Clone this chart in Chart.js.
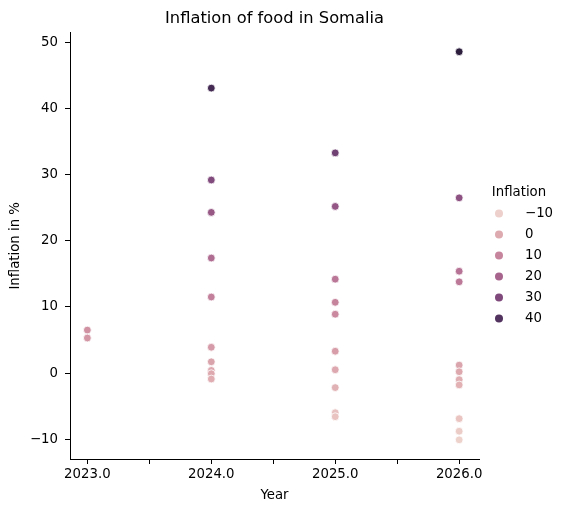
<!DOCTYPE html>
<html>
<head>
<meta charset="utf-8">
<script src="https://cdn.jsdelivr.net/npm/chart.js@4/dist/chart.umd.min.js"></script>
<style>
  body { margin: 0; background: #fff; }
  #wrap { width: 565px; height: 512px; }
</style>
</head>
<body>
<div id="wrap"><canvas id="chart" width="565" height="512"></canvas></div>
<script>
const years = [2023, 2024, 2025, 2026]
const inflation2023 = [6.5, 5.3]
const inflation2024 = [43.1, 29.2, 24.3, 17.4, 11.5, 3.9, 1.7, 0.4, -0.1, -0.9]
const inflation2025 = [33.3, 25.2, 14.2, 10.7, 8.9, 3.3, 0.5, -2.2, -6.0, -6.6]
const inflation2026 = [48.6, 26.5, 15.4, 13.8, 1.2, 0.2, -1.0, -1.8, -6.9, -8.8, -10.1]
const legendLevels = [-10, 0, 10, 20, 30, 40]

const seriesByYear = [inflation2023, inflation2024, inflation2025, inflation2026]
const points = []
years.forEach((year, i) => {
  seriesByYear[i].forEach(v => points.push({ x: year, y: v }))
})

const allValues = points.map(p => p.y)
const vmin = Math.min(...allValues)
const vmax = Math.max(...allValues)

// seaborn default cubehelix (start=0, rot=.4, light=.85, dark=.15)
const cubehelix = (t) => {
  const x = 0.85 + (0.15 - 0.85) * t
  const phi = 2 * Math.PI * (0.4 * x)
  const a = 0.8 * x * (1 - x) / 2
  const c = Math.cos(phi), s = Math.sin(phi)
  const clip = v => Math.round(Math.max(0, Math.min(1, v)) * 255)
  const r = x + a * (-0.14861 * c + 1.78277 * s)
  const g = x + a * (-0.29227 * c - 0.90649 * s)
  const b = x + a * (1.97294 * c)
  return `rgb(${clip(r)}, ${clip(g)}, ${clip(b)})`
}
const colorFor = v => cubehelix((v - vmin) / (vmax - vmin))

const fmt = v => v < 0 ? '\u2212' + Math.abs(v) : String(v)
const FONT = 'DejaVu Sans'

const hueLegend = {
  id: 'hueLegend',
  afterDraw(chart) {
    const { ctx, chartArea } = chart
    const mx = chartArea.right + 20
    const tx = chartArea.right + 46
    ctx.save()
    ctx.fillStyle = '#000'
    ctx.font = `13.3px ${FONT}`
    ctx.textAlign = 'center'
    ctx.textBaseline = 'middle'
    ctx.fillText('Inflation', chartArea.right + 40, 192.5)
    ctx.textAlign = 'left'
    legendLevels.forEach((lvl, i) => {
      const y = 213.5 + i * 21
      ctx.beginPath()
      ctx.arc(mx, y, 4, 0, Math.PI * 2)
      ctx.fillStyle = colorFor(lvl)
      ctx.fill()
      ctx.fillStyle = '#000'
      ctx.fillText(fmt(lvl), tx, y)
    })
    ctx.restore()
  }
}

new Chart(document.getElementById('chart'), {
  type: 'scatter',
  data: {
    datasets: [{
      data: points,
      pointRadius: 3.9,
      pointHoverRadius: 3.9,
      pointBorderWidth: 0.8,
      pointBorderColor: '#fff',
      pointBackgroundColor: ctx => colorFor(ctx.raw.y),
    }]
  },
  options: {
    responsive: false,
    devicePixelRatio: 1,
    animation: false,
    layout: { padding: { left: 0, right: 86, top: 0, bottom: 0 } },
    plugins: {
      legend: { display: false },
      tooltip: { enabled: false },
      title: {
        display: true,
        text: 'Inflation of food in Somalia',
        fullSize: false,
        color: '#000',
        font: { family: FONT, size: 16.3, weight: 'normal' },
        padding: { top: 9, bottom: 4 },
      },
    },
    scales: {
      x: {
        type: 'linear',
        min: 2022.86,
        max: 2026.16,
        afterFit: scale => { scale.height = 53 },
        border: { display: true, color: '#000', width: 1 },
        grid: { display: true, drawOnChartArea: false, drawTicks: true, tickLength: 5, color: '#000' },
        ticks: {
          stepSize: 0.5,
          includeBounds: false,
          padding: 3,
          color: '#000',
          font: { family: FONT, size: 13.3 },
          maxRotation: 0,
          autoSkip: false,
          callback: v => Number.isInteger(v) ? v.toFixed(1) : '',
        },
        title: { display: true, text: 'Year', color: '#000', font: { family: FONT, size: 13.3 }, padding: { top: 6, bottom: 8 } },
      },
      y: {
        min: -13,
        max: 51.5,
        afterFit: scale => { scale.width = 70 },
        border: { display: true, color: '#000', width: 1 },
        grid: { display: true, drawOnChartArea: false, drawTicks: true, tickLength: 5, color: '#000' },
        ticks: {
          stepSize: 10,
          includeBounds: false,
          padding: 7,
          color: '#000',
          font: { family: FONT, size: 13.3 },
          callback: v => fmt(v),
        },
        title: { display: true, text: 'Inflation in %', color: '#000', font: { family: FONT, size: 13.3 }, padding: { top: 8, bottom: 4 } },
      },
    },
  },
  plugins: [hueLegend],
})
</script>
</body>
</html>
